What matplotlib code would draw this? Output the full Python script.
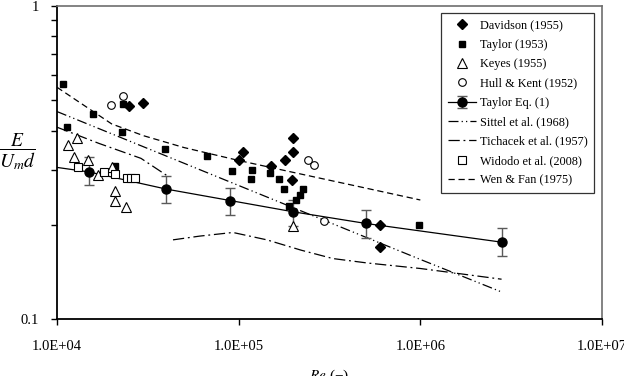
import numpy as np
import matplotlib
matplotlib.use("Agg")
import matplotlib.pyplot as plt
from matplotlib.ticker import FixedLocator, FuncFormatter, NullFormatter

plt.rcParams["font.family"] = ["Liberation Serif", "DejaVu Serif"]
plt.rcParams["mathtext.fontset"] = "stix"

# Davidson (1955)
davidson_re = [2.49e4, 2.97e4, 1.0e5, 1.05e5, 1.50e5, 1.80e5, 2.0e5, 2.0e5, 1.97e5, 6.0e5, 6.0e5]
davidson_e = [0.479, 0.490, 0.321, 0.341, 0.309, 0.321, 0.341, 0.380, 0.279, 0.200, 0.170]

# Taylor (1953)
taylor_re = [1.08e4, 1.14e4, 1.58e4, 2.08e4, 2.27e4, 2.32e4, 3.92e4, 6.71e4, 9.22e4, 1.19e5,
             1.17e5, 1.49e5, 1.67e5, 1.78e5, 2.27e5, 2.18e5, 2.07e5, 1.89e5, 9.8e5]
taylor_e = [0.563, 0.411, 0.452, 0.309, 0.396, 0.485, 0.349, 0.332, 0.296, 0.300,
            0.280, 0.292, 0.280, 0.260, 0.260, 0.249, 0.240, 0.230, 0.200]

# Keyes (1955)
keyes_re = [1.29e4, 1.15e4, 1.24e4, 1.49e4, 1.68e4, 2.0e4, 2.08e4, 2.08e4, 2.4e4, 2.0e5]
keyes_e = [0.378, 0.360, 0.329, 0.321, 0.288, 0.307, 0.257, 0.239, 0.228, 0.198]

# Hull & Kent (1952)
hull_re = [1.98e4, 2.31e4, 2.42e5, 2.61e5, 2.95e5]
hull_e = [0.483, 0.516, 0.321, 0.310, 0.205]

# Taylor Eq. (1) with error bars
taylor_eq_re = [1.5e4, 4e4, 9e4, 2e5, 5e5, 2.8e6]
taylor_eq_e = [0.295, 0.260, 0.239, 0.220, 0.202, 0.176]
taylor_eq_hi = [0.329, 0.287, 0.263, 0.240, 0.223, 0.196]
taylor_eq_lo = [0.2675, 0.234, 0.215, 0.198, 0.182, 0.159]
taylor_eq_start = (1e4, 0.305)

# Sittel et al. (1968)
sittel_re = [1e4, 1e5, 1e6, 2.8e6]
sittel_e = [0.46, 0.267, 0.155, 0.122]

# Tichacek et al. (1957), two pieces
tich_re = [1e4, 1.7e4, 2.9e4, 4.0e4, np.nan,
           4.35e4, 6.1e4, 9.3e4, 1.43e5, 2.2e5, 3.3e5, 5.1e5, 1e6, 2.8e6]
tich_e = [0.41, 0.364, 0.326, 0.288, np.nan,
          0.179, 0.184, 0.189, 0.179, 0.166, 0.156, 0.151, 0.145, 0.134]

# Widodo et al. (2008)
widodo_re = [1.30e4, 1.81e4, 2.08e4, 2.42e4, 2.55e4, 2.69e4]
widodo_e = [0.305, 0.294, 0.290, 0.283, 0.283, 0.283]

# Wen & Fan (1975)
wen_re = [1e4, 2e4, 3e4, 5e4, 1e5, 2e5, 5e5, 1e6]
wen_e = [0.55, 0.42, 0.385, 0.353, 0.321, 0.294, 0.262, 0.240]


fig = plt.figure(figsize=(6.24, 3.76), dpi=100)
ax = fig.add_axes([57 / 624, 1 - 319 / 376, 545 / 624, 313 / 376])

ax.plot(sittel_re, sittel_e, color="black", lw=0.9, dashes=(8, 2.5, 1, 2.5, 1, 2.5),
        label="Sittel et al. (1968)", zorder=2)
ax.plot(tich_re, tich_e, color="black", lw=0.9, dashes=(9, 3, 1.5, 3),
        label="Tichacek et al. (1957)", zorder=2)
ax.plot(wen_re, wen_e, color="black", lw=0.9, dashes=(5, 3),
        label="Wen & Fan (1975)", zorder=2)

ax.plot([taylor_eq_start[0], taylor_eq_re[0]], [taylor_eq_start[1], taylor_eq_e[0]],
        color="black", lw=0.9, zorder=3)
yerr = [np.array(taylor_eq_e) - np.array(taylor_eq_lo),
        np.array(taylor_eq_hi) - np.array(taylor_eq_e)]
eb = ax.errorbar(taylor_eq_re, taylor_eq_e, yerr=yerr, fmt="-o", color="black", lw=0.9,
                 ms=6.5, ecolor="#5a5a5a", elinewidth=1.0, capsize=3.5, capthick=1.0,
                 label="Taylor Eq. (1)", zorder=4)

ax.plot(davidson_re, davidson_e, "D", color="black", ms=5.2, ls="none",
        label="Davidson (1955)", zorder=5)
ax.plot(taylor_re, taylor_e, "s", color="black", ms=4.5, ls="none",
        label="Taylor (1953)", zorder=5)
ax.plot(keyes_re, keyes_e, "^", mfc="white", mec="black", mew=0.8, ms=6.5, ls="none",
        label="Keyes (1955)", zorder=5)
ax.plot(hull_re, hull_e, "o", mfc="white", mec="black", mew=0.8, ms=5.5, ls="none",
        label="Hull & Kent (1952)", zorder=5)
ax.plot(widodo_re, widodo_e, "s", mfc="white", mec="black", mew=0.8, ms=6, ls="none",
        label="Widodo et al. (2008)", zorder=5)

ax.set_xscale("log")
ax.set_yscale("log")
ax.set_xlim(1e4, 1e7)
ax.set_ylim(0.1, 1)

ax.xaxis.set_major_locator(FixedLocator([1e4, 1e5, 1e6, 1e7]))
ax.xaxis.set_minor_locator(FixedLocator([]))
ax.xaxis.set_major_formatter(FuncFormatter(lambda v, p: f"{v:.1E}"))
ax.yaxis.set_major_locator(FixedLocator([0.1, 1]))
ax.yaxis.set_minor_locator(FixedLocator([0.2, 0.3, 0.4, 0.5, 0.6, 0.7, 0.8, 0.9]))
ax.yaxis.set_major_formatter(FuncFormatter(lambda v, p: "1" if v >= 1 else "0.1"))
ax.yaxis.set_minor_formatter(NullFormatter())

ax.tick_params(axis="x", which="major", direction="out", length=4, width=1, pad=11, labelsize=10.5)
ax.tick_params(axis="y", which="major", direction="out", length=4, width=1, pad=9, labelsize=10.5)
ax.tick_params(axis="y", which="minor", direction="out", length=4, width=1)

for side in ["left", "bottom"]:
    ax.spines[side].set_color("black")
    ax.spines[side].set_linewidth(1.3)
for side in ["top", "right"]:
    ax.spines[side].set_color("#6e6e6e")
    ax.spines[side].set_linewidth(1.2)

order = ["Davidson (1955)", "Taylor (1953)", "Keyes (1955)", "Hull & Kent (1952)",
         "Taylor Eq. (1)", "Sittel et al. (1968)", "Tichacek et al. (1957)",
         "Widodo et al. (2008)", "Wen & Fan (1975)"]
handles, labels = ax.get_legend_handles_labels()
hmap = dict(zip(labels, handles))
leg = ax.legend([hmap[k] for k in order], order, loc="upper right",
                bbox_to_anchor=(594 / 624, 1 - 13 / 376), bbox_transform=fig.transFigure,
                borderaxespad=0, fontsize=8.8, frameon=True, fancybox=False,
                edgecolor="black", handlelength=2.3, handletextpad=0.3,
                labelspacing=0.6, borderpad=0.55)
leg.get_frame().set_linewidth(0.9)

ax.set_xlabel("$\\it{Re}$ (\u2212)", fontsize=11)
ax.xaxis.set_label_coords(0.5, -0.155)
fig.text(18 / 624, 1 - 152 / 376, r"$\dfrac{E}{U_m d}$", fontsize=14, ha="center", va="center")

fig.savefig("out.png", dpi=100)
